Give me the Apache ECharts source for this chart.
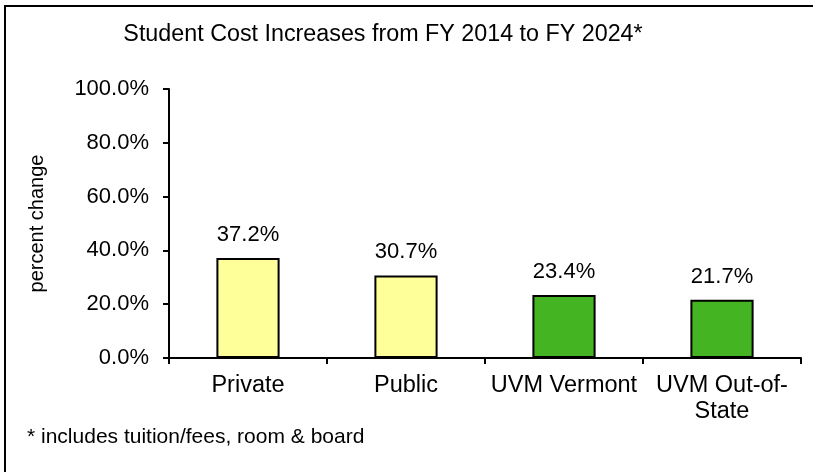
<!DOCTYPE html>
<html>
<head>
<meta charset="utf-8">
<script src="https://cdn.jsdelivr.net/npm/echarts@6/dist/echarts.min.js"></script>
<style>
	html, body { margin: 0; padding: 0; background: #fff; }
	#chart { width: 813px; height: 472px; }
</style>
</head>
<body>
<div id="chart"></div>
<script>
// 数据
const categories = ['Private', 'Public', 'UVM Vermont', 'UVM Out-of-State']
const values = [37.2, 30.7, 23.4, 21.7]
const barColors = ['#FFFF99', '#FFFF99', '#45B422', '#45B422']
const yTicks = [0, 20, 40, 60, 80, 100]

const font = 'Arial, "Liberation Sans", sans-serif'

const myChart = echarts.init(document.getElementById('chart'))
const option = {
	animation: false,
	title: {
		text: 'Student Cost Increases from FY 2014 to FY 2024*',
		left: 383,
		top: 23,
		padding: 0,
		textAlign: 'center',
		textStyle: { fontFamily: font, fontSize: 23.3, fontWeight: 'normal', color: '#000' }
	},
	graphic: [
		{
			type: 'rect',
			shape: { x: 5, y: 6, width: 820, height: 480 },
			style: { fill: 'none', stroke: '#000', lineWidth: 2 },
			silent: true
		},
		{
			type: 'text',
			left: 27,
			top: 427,
			style: { text: '* includes tuition/fees, room & board', fontFamily: font, fontSize: 21, fill: '#000' }
		}
	],
	grid: { left: 169, right: 12, top: 89, bottom: 114 },
	xAxis: {
		type: 'category',
		data: categories,
		axisLine: { lineStyle: { color: '#000', width: 2 } },
		axisTick: { show: true, length: 6, lineStyle: { color: '#000', width: 2 } },
		axisLabel: {
			color: '#000',
			fontFamily: font,
			fontSize: 23.5,
			margin: 15,
			lineHeight: 26,
			interval: 0,
			formatter: function (value) {
				// 处理x轴文字过长
				return value === 'UVM Out-of-State' ? 'UVM Out-of-\nState' : value
			}
		}
	},
	yAxis: {
		type: 'value',
		min: yTicks[0],
		max: yTicks[yTicks.length - 1],
		interval: 20,
		name: 'percent change',
		nameLocation: 'middle',
		nameGap: 122,
		nameTextStyle: { color: '#000', fontFamily: font, fontSize: 20 },
		axisLine: { show: true, lineStyle: { color: '#000', width: 2 } },
		axisTick: { show: true, length: 6, lineStyle: { color: '#000', width: 2 } },
		splitLine: { show: false },
		axisLabel: {
			color: '#000',
			fontFamily: font,
			fontSize: 22,
			margin: 20,
			formatter: v => v.toFixed(1) + '%'
		}
	},
	series: [
		{
			type: 'bar',
			barWidth: '40%',
			data: values.map((v, i) => ({
				value: v,
				itemStyle: { color: barColors[i], borderColor: '#000', borderWidth: 2 }
			})),
			label: {
				show: true,
				position: 'top',
				distance: 12,
				color: '#000',
				fontFamily: font,
				fontSize: 22,
				formatter: p => p.value.toFixed(1) + '%'
			}
		}
	]
}
myChart.setOption(option)
</script>
</body>
</html>
